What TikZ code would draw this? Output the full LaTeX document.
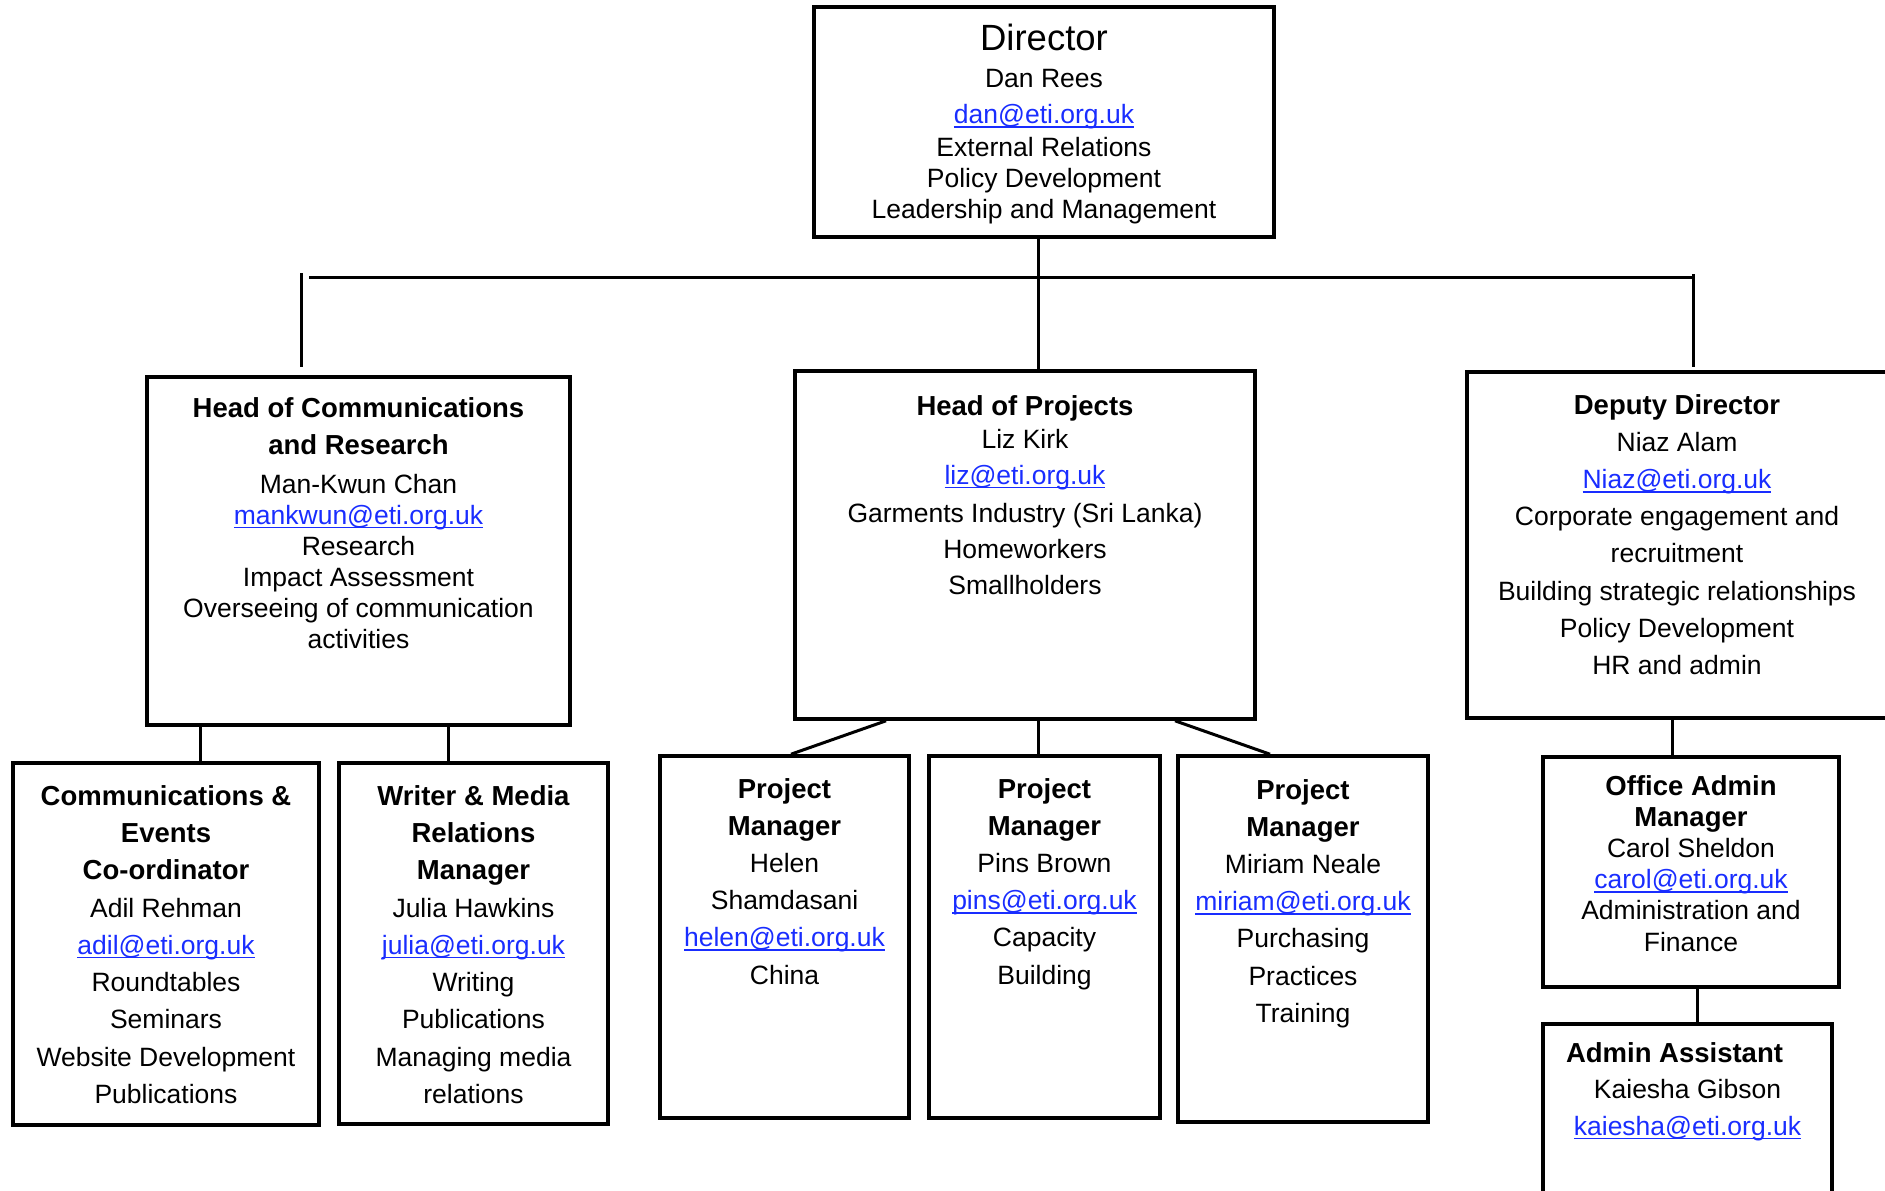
\documentclass[tikz,border=0pt]{standalone}
\usepackage{fontspec}
\setmainfont{Liberation Sans}
\definecolor{mailBlue}{RGB}{25,45,255}
\NewDocumentCommand\Mail{m}%
{%
\textcolor{mailBlue}{\setbox0=\hbox{#1}\rlap{\rule[-4pt]{\wd0}{1.6pt}}\box0}%
}
\NewDocumentCommand\Head{m}%
{%
{\fontsize{27.5pt}{33pt}\selectfont\bfseries #1}%
}
\tikzset{
  postBox/.style={draw,line width=3.6pt,inner sep=0pt},
  postText/.style={anchor=north,inner sep=0pt,align=center,font=\fontsize{26.5pt}{#1}\selectfont},
  postText/.default=31pt,
  link/.style={line width=3pt}
}

\begin{document}
\begin{tikzpicture}[x=1pt,y=-1pt]
\useasboundingbox (0,0) rectangle (1885,1191);
% boxes
\foreach \name/\cx/\cy/\w/\h in {dir/1044/122/460/230, hcr/358.5/551/423/348, hop/1025/545/460/348,
  dep/1677/545/420/346, ce/166/944/306/362, wm/473.5/943.5/269/361, pmA/784.5/937/249/362,
  pmB/1044.5/937/231/362, pmC/1303/939/250/366, oam/1691/872/296/230, aa/1687.5/1137/289/226}
{
	\node[postBox,minimum width=\w,minimum height=\h] (\name) at (\cx,\cy) {};
}
% bus under the director
\coordinate (busL) at (309,277);
\coordinate (busR) at (1693,277);
\coordinate (dropLtop) at (301,273);
\coordinate (dropLend) at (301,367);
\coordinate (dropRtop) at (1693,274);
\coordinate (dropRend) at (1693,367);
\draw[link] (busL) -- (busR);
\draw[link] (dropLtop) -- (dropLend);
\draw[link] (dropRtop) -- (dropRend);
\draw[link] (dir.south -| 1038,0) -- (hop.north -| 1038,0);
\foreach \from/\to/\xa/\xb in {hcr/ce/200/200, hcr/wm/448/448, hop/pmA/886/791, hop/pmB/1038/1038,
  hop/pmC/1175/1270, dep/oam/1672/1672, oam/aa/1697/1697}
{
	\draw[link] (\from.south -| \xa,0) -- (\to.north -| \xb,0);
}
% texts
\node[postText] (dir-txt) at (1044,24) {{\fontsize{36.5pt}{40pt}\selectfont Director}\\[6pt]
  Dan Rees\\[5pt] \Mail{dan@eti.org.uk}\\[2pt] External Relations\\ Policy Development\\
  Leadership and Management};
\node[postText] (hcr-txt) at (358.5,397) {\Head{Head of Communications}\\[6pt] \Head{and Research}\\[8pt]
  Man-Kwun Chan\\ \Mail{mankwun@eti.org.uk}\\ Research\\ Impact Assessment\\
  Overseeing of communication\\ activities};
\node[postText=36pt] (hop-txt) at (1025,395) {\Head{Head of Projects}\\[-3pt] Liz Kirk\\
  \Mail{liz@eti.org.uk}\\[2pt] Garments Industry (Sri Lanka)\\ Homeworkers\\ Smallholders};
\node[postText=37.2pt] (dep-txt) at (1677,394) {\Head{Deputy Director}\\ Niaz Alam\\
  \Mail{Niaz@eti.org.uk}\\ Corporate engagement and\\ recruitment\\
  Building strategic relationships\\ Policy Development\\ HR and admin};
\node[postText=37.3pt] (ce-txt) at (166,785) {\Head{Communications \&}\\ \Head{Events}\\
  \Head{Co-ordinator}\\ Adil Rehman\\ \Mail{adil@eti.org.uk}\\ Roundtables\\ Seminars\\
  Website Development\\ Publications};
\node[postText=37.3pt] (wm-txt) at (473.5,785) {\Head{Writer \& Media}\\ \Head{Relations}\\
  \Head{Manager}\\ Julia Hawkins\\ \Mail{julia@eti.org.uk}\\ Writing\\ Publications\\
  Managing media\\ relations};
\node[postText=37.2pt] (pmA-txt) at (784.5,778) {\Head{Project}\\ \Head{Manager}\\ Helen\\
  Shamdasani\\ \Mail{helen@eti.org.uk}\\ China};
\node[postText=37.2pt] (pmB-txt) at (1044.5,778) {\Head{Project}\\ \Head{Manager}\\ Pins Brown\\
  \Mail{pins@eti.org.uk}\\ Capacity\\ Building};
\node[postText=37.2pt] (pmC-txt) at (1303,779) {\Head{Project}\\ \Head{Manager}\\ Miriam Neale\\
  \Mail{miriam@eti.org.uk}\\ Purchasing\\ Practices\\ Training};
\node[postText=31.2pt] (oam-txt) at (1691,775) {\Head{Office Admin}\\ \Head{Manager}\\
  Carol Sheldon\\ \Mail{carol@eti.org.uk}\\ Administration and\\ Finance};
\node[postText=36.5pt] (aa-txt) at (1687.5,1042) {\Head{Admin Assistant}\hspace*{26pt}\\
  Kaiesha Gibson\\ \Mail{kaiesha@eti.org.uk}};
\end{tikzpicture}
\end{document}
